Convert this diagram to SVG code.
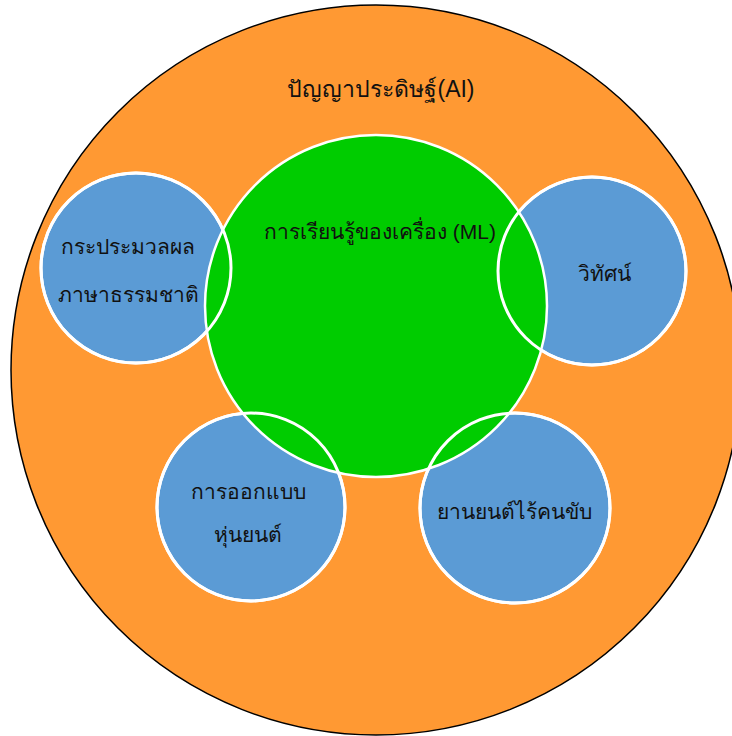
<svg xmlns="http://www.w3.org/2000/svg" width="732" height="736" viewBox="0 0 732 736">
<style>
.t{font-family:"Liberation Sans","Noto Sans",sans-serif;font-size:21px;fill:#111;text-anchor:middle}
.blue{fill:#5B9BD5;stroke:#fff;stroke-width:3}
.ring{fill:none;stroke:#fff;stroke-width:3}
</style>
<rect width="732" height="736" fill="#fff"/>
<g id="ai">
<circle cx="376" cy="370" r="365" fill="#FF9933" stroke="#000" stroke-width="1.5"/>
<text class="t" x="381" y="97" style="font-size:23px">ปัญญาประดิษฐ์(AI)</text>
</g>
<g id="nlp-fill"><circle class="blue" cx="136" cy="268" r="95"/></g>
<g id="vision-fill"><circle class="blue" cx="592" cy="271" r="94"/></g>
<g id="robot-fill"><circle class="blue" cx="251" cy="507" r="94"/></g>
<g id="auto-fill"><circle class="blue" cx="515" cy="508" r="95"/></g>
<g id="ml">
<circle cx="376" cy="306" r="171" fill="#00CC00" stroke="#fff" stroke-width="2.5"/>
<text class="t" x="380" y="239">การเรียนรู้ของเครื่อง (ML)</text>
</g>
<g id="connectors"></g>
<g id="nlp">
<circle class="ring" cx="136" cy="268" r="95"/>
<text class="t" x="128" y="254">กระประมวลผล</text>
<text class="t" x="128" y="302">ภาษาธรรมชาติ</text>
</g>
<g id="vision">
<circle class="ring" cx="592" cy="271" r="94"/>
<text class="t" x="604" y="281">วิทัศน์</text>
</g>
<g id="robot">
<circle class="ring" cx="251" cy="507" r="94"/>
<text class="t" x="248" y="499">การออกแบบ</text>
<text class="t" x="248" y="542">หุ่นยนต์</text>
</g>
<g id="auto">
<circle class="ring" cx="515" cy="508" r="95"/>
<text class="t" x="514" y="519">ยานยนต์ไร้คนขับ</text>
</g>
</svg>
